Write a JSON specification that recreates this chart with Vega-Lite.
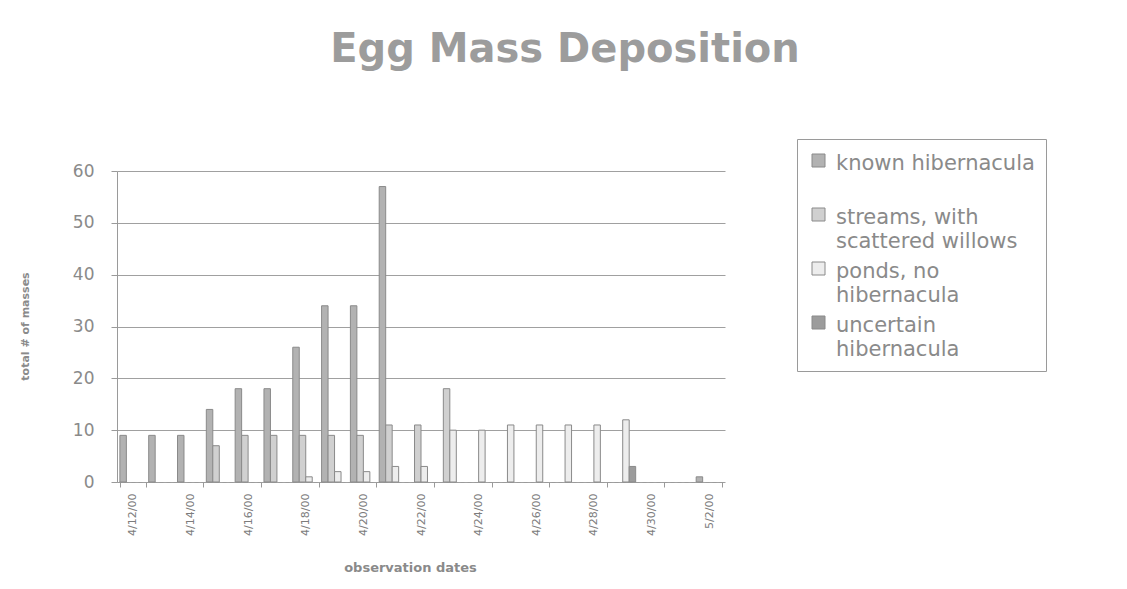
{
  "$schema": "https://vega.github.io/schema/vega-lite/v6.json",
  "width": 608,
  "height": 311,
  "autosize": {"type": "none"},
  "padding": {"left": 117, "top": 171, "right": 402, "bottom": 107},
  "background": "white",
  "title": {
    "text": "Egg Mass Deposition",
    "anchor": "middle",
    "frame": "group",
    "dx": 144,
    "offset": 37,
    "baseline": "alphabetic",
    "font": "DejaVu Sans",
    "fontSize": 40,
    "fontWeight": "bold",
    "color": "#9c9c9c"
  },
  "data": {
    "values": [
      {"date": "4/12/00", "series": "known hibernacula", "masses": 9},
      {"date": "4/13/00", "series": "known hibernacula", "masses": 9},
      {"date": "4/14/00", "series": "known hibernacula", "masses": 9},
      {"date": "4/15/00", "series": "known hibernacula", "masses": 14},
      {"date": "4/15/00", "series": "streams, with scattered willows", "masses": 7},
      {"date": "4/16/00", "series": "known hibernacula", "masses": 18},
      {"date": "4/16/00", "series": "streams, with scattered willows", "masses": 9},
      {"date": "4/17/00", "series": "known hibernacula", "masses": 18},
      {"date": "4/17/00", "series": "streams, with scattered willows", "masses": 9},
      {"date": "4/18/00", "series": "known hibernacula", "masses": 26},
      {"date": "4/18/00", "series": "streams, with scattered willows", "masses": 9},
      {"date": "4/18/00", "series": "ponds, no hibernacula", "masses": 1},
      {"date": "4/19/00", "series": "known hibernacula", "masses": 34},
      {"date": "4/19/00", "series": "streams, with scattered willows", "masses": 9},
      {"date": "4/19/00", "series": "ponds, no hibernacula", "masses": 2},
      {"date": "4/20/00", "series": "known hibernacula", "masses": 34},
      {"date": "4/20/00", "series": "streams, with scattered willows", "masses": 9},
      {"date": "4/20/00", "series": "ponds, no hibernacula", "masses": 2},
      {"date": "4/21/00", "series": "known hibernacula", "masses": 57},
      {"date": "4/21/00", "series": "streams, with scattered willows", "masses": 11},
      {"date": "4/21/00", "series": "ponds, no hibernacula", "masses": 3},
      {"date": "4/22/00", "series": "streams, with scattered willows", "masses": 11},
      {"date": "4/22/00", "series": "ponds, no hibernacula", "masses": 3},
      {"date": "4/23/00", "series": "streams, with scattered willows", "masses": 18},
      {"date": "4/23/00", "series": "ponds, no hibernacula", "masses": 10},
      {"date": "4/24/00", "series": "ponds, no hibernacula", "masses": 10},
      {"date": "4/25/00", "series": "ponds, no hibernacula", "masses": 11},
      {"date": "4/26/00", "series": "ponds, no hibernacula", "masses": 11},
      {"date": "4/27/00", "series": "ponds, no hibernacula", "masses": 11},
      {"date": "4/28/00", "series": "ponds, no hibernacula", "masses": 11},
      {"date": "4/29/00", "series": "ponds, no hibernacula", "masses": 12},
      {"date": "4/29/00", "series": "uncertain hibernacula", "masses": 3},
      {"date": "5/2/00", "series": "known hibernacula", "masses": 1}
    ]
  },
  "mark": {"type": "bar", "stroke": "#8a8a8a", "strokeWidth": 1},
  "encoding": {
    "x": {
      "field": "date",
      "type": "nominal",
      "sort": null,
      "scale": {
        "domain": ["4/12/00","4/13/00","4/14/00","4/15/00","4/16/00","4/17/00","4/18/00","4/19/00","4/20/00","4/21/00","4/22/00","4/23/00","4/24/00","4/25/00","4/26/00","4/27/00","4/28/00","4/29/00","4/30/00","5/1/00","5/2/00"],
        "paddingInner": 0.1,
        "paddingOuter": 0.1
      },
      "axis": {
        "values": ["4/12/00","4/14/00","4/16/00","4/18/00","4/20/00","4/22/00","4/24/00","4/26/00","4/28/00","4/30/00","5/2/00"],
        "labelAngle": -90,
        "labelFont": "DejaVu Sans",
        "labelFontSize": 11,
        "labelColor": "#7c7c7c",
        "labelPadding": 6,
        "tickBand": "extent",
        "tickSize": 5,
        "tickColor": "#9a9a9a",
        "domainColor": "#9a9a9a",
        "domainDash": [4, 3],
        "grid": false,
        "title": "observation dates",
        "titleX": 293,
        "titleY": 85,
        "titleAlign": "center",
        "titleBaseline": "middle",
        "titleFont": "DejaVu Sans",
        "titleFontSize": 13,
        "titleFontWeight": "bold",
        "titleColor": "#8a8a8a"
      }
    },
    "xOffset": {
      "field": "series",
      "type": "nominal",
      "scale": {"domain": ["known hibernacula", "streams, with scattered willows", "ponds, no hibernacula", "uncertain hibernacula"]}
    },
    "y": {
      "field": "masses",
      "type": "quantitative",
      "scale": {"domain": [0, 60], "nice": false},
      "axis": {
        "values": [0, 10, 20, 30, 40, 50, 60],
        "grid": true,
        "gridColor": "#a0a0a0",
        "gridWidth": 1,
        "tickSize": 6,
        "tickColor": "#9a9a9a",
        "domainColor": "#9a9a9a",
        "labelFont": "DejaVu Sans",
        "labelFontSize": 17,
        "labelColor": "#8a8a8a",
        "labelPadding": 17,
        "title": "total # of masses",
        "titleX": -92,
        "titleY": 155,
        "titleAngle": -90,
        "titleAlign": "center",
        "titleBaseline": "middle",
        "titleFont": "DejaVu Sans",
        "titleFontSize": 11,
        "titleFontWeight": "bold",
        "titleColor": "#8a8a8a"
      }
    },
    "color": {
      "field": "series",
      "type": "nominal",
      "scale": {
        "domain": ["known hibernacula", "streams, with scattered willows", "ponds, no hibernacula", "uncertain hibernacula"],
        "range": ["#b2b2b2", "#d0d0d0", "#ededed", "#9c9c9c"]
      },
      "legend": {
        "orient": "none",
        "legendX": 680,
        "legendY": -32,
        "title": null,
        "direction": "vertical",
        "strokeColor": "#9a9a9a",
        "fillColor": "white",
        "padding": 11,
        "labelFont": "DejaVu Sans",
        "labelFontSize": 21,
        "labelColor": "#8a8a8a",
        "labelLimit": 0,
        "labelBaseline": "top",
        "labelOffset": 7,
        "symbolType": "square",
        "symbolSize": 169,
        "symbolStrokeColor": "#8a8a8a",
        "symbolStrokeWidth": 1,
        "rowPadding": 6,
        "labelExpr": "datum.label == 'known hibernacula' ? ['known hibernacula', ' '] : datum.label == 'streams, with scattered willows' ? ['streams, with', 'scattered willows'] : datum.label == 'ponds, no hibernacula' ? ['ponds, no', 'hibernacula'] : ['uncertain', 'hibernacula']",
        "encode": {
          "labels": {"update": {"dy": {"value": -8}, "lineHeight": {"value": 24}}}
        }
      }
    }
  },
  "config": {"view": {"stroke": null}}
}
